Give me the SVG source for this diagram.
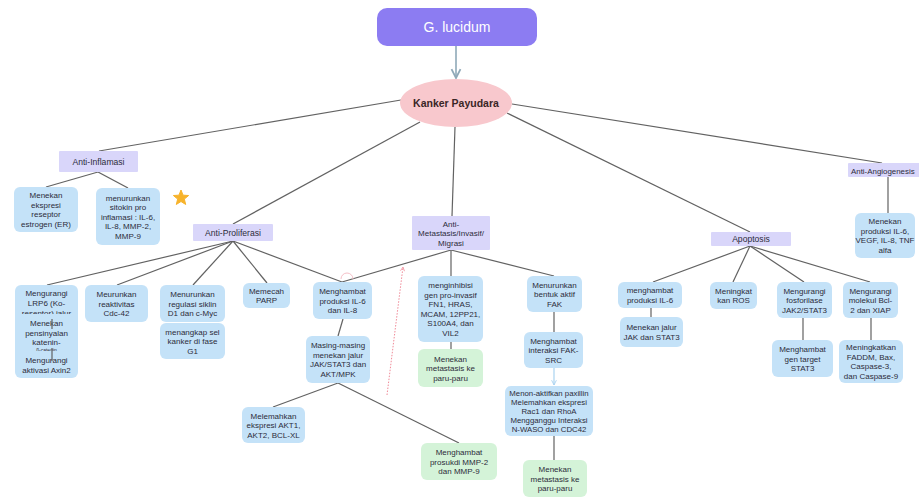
<svg xmlns="http://www.w3.org/2000/svg" width="919" height="498" viewBox="0 0 919 498">
<defs>
<style>
text{font-family:"Liberation Sans",Arial,sans-serif;fill:#2c2c3a;font-size:8px;text-anchor:middle}
text.cat{font-size:8.6px}
.b{fill:#c4e2f8}
.g{fill:#d4f3d8}
.c{fill:#d9d6fa}
.ln{stroke:#626262;stroke-width:1.2;fill:none}
</style>
<marker id="ah" viewBox="0 0 10 10" refX="9" refY="5" markerWidth="7" markerHeight="7" orient="auto"><path d="M1,1 L9,5 L1,9" fill="none" stroke="#8fa9b8" stroke-width="1.6"/></marker>
<marker id="ahb" viewBox="0 0 10 10" refX="9" refY="5" markerWidth="5" markerHeight="5" orient="auto"><path d="M1,1 L9,5 L1,9" fill="none" stroke="#a9d3f0" stroke-width="1.5"/></marker>
<marker id="ahr" viewBox="0 0 10 10" refX="9" refY="5" markerWidth="5" markerHeight="5" orient="auto"><path d="M1,1 L9,5 L1,9" fill="none" stroke="#f08a98" stroke-width="1.5"/></marker>
</defs>
<rect width="919" height="498" fill="#ffffff"/>

<g id="connectors">
<line x1="456" y1="46" x2="456" y2="78" stroke="#8fa9b8" stroke-width="1.6" marker-end="url(#ah)"/>
<line class="ln" x1="401" y1="100" x2="99" y2="151"/>
<line class="ln" x1="420" y1="122" x2="233" y2="224"/>
<line class="ln" x1="455" y1="127" x2="452" y2="216"/>
<line class="ln" x1="507" y1="113" x2="750" y2="232"/>
<line class="ln" x1="512" y1="104" x2="882" y2="163"/>
<line class="ln" x1="98" y1="172" x2="46" y2="187"/>
<line class="ln" x1="98" y1="172" x2="128" y2="188"/>
<line class="ln" x1="233" y1="241" x2="47" y2="285"/>
<line class="ln" x1="233" y1="241" x2="117" y2="285"/>
<line class="ln" x1="233" y1="241" x2="193" y2="285"/>
<line class="ln" x1="233" y1="241" x2="267" y2="283"/>
<line class="ln" x1="233" y1="241" x2="342" y2="282"/>
<line class="ln" x1="451" y1="250" x2="342" y2="282"/>
<line class="ln" x1="343" y1="319" x2="338" y2="336"/>
<line class="ln" x1="338" y1="383" x2="273" y2="407"/>
<line class="ln" x1="338" y1="383" x2="459" y2="443"/>
<line class="ln" x1="451" y1="250" x2="451" y2="276"/>
<line class="ln" x1="451" y1="342" x2="451" y2="349"/>
<line class="ln" x1="451" y1="250" x2="554" y2="276"/>
<line class="ln" x1="554" y1="312" x2="554" y2="332"/>
<line x1="554" y1="368" x2="554" y2="385" stroke="#a9d3f0" stroke-width="1.2" marker-end="url(#ahb)"/>
<line class="ln" x1="554" y1="436" x2="554" y2="460"/>
<line class="ln" x1="750" y1="246" x2="653" y2="282"/>
<line class="ln" x1="750" y1="246" x2="733" y2="282"/>
<line class="ln" x1="750" y1="246" x2="804" y2="282"/>
<line class="ln" x1="750" y1="246" x2="870" y2="282"/>
<line class="ln" x1="651" y1="308" x2="651" y2="317"/>
<line class="ln" x1="803" y1="318" x2="803" y2="340"/>
<line class="ln" x1="871" y1="318" x2="871" y2="340"/>
<line class="ln" x1="888" y1="177" x2="888" y2="213"/>
<line x1="387" y1="395" x2="403" y2="267" stroke="#f08a98" stroke-width="1" stroke-dasharray="1.5,1.5" marker-end="url(#ahr)"/>
<path d="M341,279 A6,6 0 0 1 353,279" fill="none" stroke="#f5c0c8" stroke-width="1"/>
</g>

<g id="g-lucidum"><rect x="377" y="8" width="160" height="38" rx="10" fill="#8c7cf2"/><text x="457" y="32" style="font-size:14px;fill:#ffffff">G. lucidum</text></g>
<g id="kanker"><ellipse cx="456" cy="103" rx="56" ry="24" fill="#f8c8cd"/><text x="456" y="107" style="font-size:10.5px;font-weight:bold;fill:#3a2626">Kanker Payudara</text></g>

<g id="anti-inflamasi"><rect class="c" x="59" y="151" width="79" height="21" rx="1"/><text class="cat" x="98.5" y="164.5">Anti-Inflamasi</text></g>
<g id="er"><rect class="b" x="14" y="187" width="64" height="45" rx="6"/><text x="46" y="198">Menekan</text><text x="46" y="207.5">ekspresi</text><text x="46" y="217">reseptor</text><text x="46" y="226.5">estrogen (ER)</text></g>
<g id="sitokin"><rect class="b" x="96" y="188" width="64" height="57" rx="6"/><text x="128" y="200.5">menurunkan</text><text x="128" y="210">sitokin pro</text><text x="128" y="219.5">inflamasi : IL-6,</text><text x="128" y="229">IL-8, MMP-2,</text><text x="128" y="238.5">MMP-9</text></g>
<g id="star"><polygon points="181,190 183.06,195.17 188.61,195.53 184.33,199.08 185.7,204.47 181,201.5 176.3,204.47 177.67,199.08 173.39,195.53 178.94,195.17" fill="#f7b32b" stroke="#f7b32b" stroke-width="1" stroke-linejoin="round"/></g>

<g id="anti-proliferasi"><rect class="c" x="193" y="224" width="80" height="17" rx="1"/><text class="cat" x="233" y="235.5">Anti-Proliferasi</text></g>
<g id="lrp6">
<rect class="b" x="15" y="285" width="63" height="93" rx="6"/>
<text x="46.5" y="296">Mengurangi</text><text x="46.5" y="306">LRP6 (Ko-</text><text x="46.5" y="316">resentor) jalur</text>
<rect class="b" x="17" y="314" width="59" height="36"/>
<text x="46.5" y="326">Menekan</text><text x="46.5" y="336">pensinyalan</text><text x="46.5" y="345">katenin-</text><text x="46.5" y="352" style="font-size:5px">β-catenin</text>
<rect class="b" x="17" y="351" width="59" height="24"/>
<text x="46.5" y="363">Mengurangi</text><text x="46.5" y="372.5">aktivasi Axin2</text>
<line class="ln" x1="52" y1="319" x2="52" y2="329"/>
<line class="ln" x1="52" y1="348" x2="52" y2="361"/>
</g>
<g id="cdc42"><rect class="b" x="85" y="285" width="63" height="37" rx="6"/><text x="116.5" y="297">Meurunkan</text><text x="116.5" y="306.5">reaktivitas</text><text x="116.5" y="316">Cdc-42</text></g>
<g id="siklin"><rect class="b" x="160" y="285" width="65" height="37" rx="6"/><text x="192.5" y="297">Menurunkan</text><text x="192.5" y="306.5">regulasi siklin</text><text x="192.5" y="316">D1 dan c-Myc</text></g>
<g id="g1"><rect class="b" x="160" y="323" width="65" height="36" rx="6"/><text x="192.5" y="334.5">menangkap sel</text><text x="192.5" y="344">kanker di fase</text><text x="192.5" y="353.5">G1</text></g>
<g id="parp"><rect class="b" x="243" y="283" width="47" height="25" rx="6"/><text x="266.5" y="293.75">Memecah</text><text x="266.5" y="303.25">PARP</text></g>
<g id="il6-il8"><rect class="b" x="313" y="282" width="59" height="37" rx="6"/><text x="342.5" y="294">Menghambat</text><text x="342.5" y="303.5">produksi IL-6</text><text x="342.5" y="313">dan IL-8</text></g>
<g id="jakstat"><rect class="b" x="306" y="336" width="64" height="47" rx="6"/><text x="338" y="348.25">Masing-masing</text><text x="338" y="357.75">menekan jalur</text><text x="338" y="367.25">JAK/STAT3 dan</text><text x="338" y="376.75">AKT/MPK</text></g>
<g id="akt"><rect class="b" x="242" y="407" width="63" height="36" rx="6"/><text x="273.5" y="418.5">Melemahkan</text><text x="273.5" y="428">ekspresi AKT1,</text><text x="273.5" y="437.5">AKT2, BCL-XL</text></g>
<g id="mmp"><rect class="g" x="421" y="443" width="76" height="37" rx="6"/><text x="459" y="455">Menghambat</text><text x="459" y="464.5">prosukdi MMP-2</text><text x="459" y="474">dan MMP-9</text></g>

<g id="anti-metastasis"><rect class="c" x="412" y="216" width="78" height="34" rx="1"/><text x="451" y="226.5">Anti-</text><text x="451" y="236">Metastasis/Invasif/</text><text x="451" y="245.5">Migrasi</text></g>
<g id="pro-invasif"><rect class="b" x="418" y="276" width="65" height="66" rx="6"/><text x="450.5" y="288.25">menginhibisi</text><text x="450.5" y="297.75">gen pro-invasif</text><text x="450.5" y="307.25">FN1, HRAS,</text><text x="450.5" y="316.75">MCAM, 12PP21,</text><text x="450.5" y="326.25">S100A4, dan</text><text x="450.5" y="335.75">VIL2</text></g>
<g id="paru1"><rect class="g" x="418" y="349" width="65" height="38" rx="6"/><text x="450.5" y="361.5">Menekan</text><text x="450.5" y="371">metastasis ke</text><text x="450.5" y="380.5">paru-paru</text></g>
<g id="fak"><rect class="b" x="527" y="276" width="55" height="36" rx="6"/><text x="554.5" y="287.5">Menurunkan</text><text x="554.5" y="297">bentuk aktif</text><text x="554.5" y="306.5">FAK</text></g>
<g id="fak-src"><rect class="b" x="524" y="332" width="59" height="36" rx="6"/><text x="553.5" y="343.5">Menghambat</text><text x="553.5" y="353">interaksi FAK-</text><text x="553.5" y="362.5">SRC</text></g>
<g id="paxillin"><rect class="b" x="505" y="386" width="88" height="50" rx="6"/><text x="549" y="396" style="font-size:7.8px">Menon-aktifkan paxillin</text><text x="549" y="405" style="font-size:7.8px">Melemahkan ekspresi</text><text x="549" y="414" style="font-size:7.8px">Rac1 dan RhoA</text><text x="549" y="423" style="font-size:7.8px">Mengganggu Interaksi</text><text x="549" y="432" style="font-size:7.8px">N-WASO dan CDC42</text></g>
<g id="paru2"><rect class="g" x="523" y="460" width="64" height="37" rx="6"/><text x="555" y="472">Menekan</text><text x="555" y="481.5">metastasis ke</text><text x="555" y="491">paru-paru</text></g>

<g id="apoptosis"><rect class="c" x="711" y="232" width="80" height="14" rx="1"/><text class="cat" x="751" y="242">Apoptosis</text></g>
<g id="ap-il6"><rect class="b" x="618" y="282" width="64" height="26" rx="6"/><text x="650" y="293.25">menghambat</text><text x="650" y="302.75">produksi IL-6</text></g>
<g id="ap-jak"><rect class="b" x="620" y="317" width="63" height="30" rx="6"/><text x="651.5" y="330.25">Menekan jalur</text><text x="651.5" y="339.75">JAK dan STAT3</text></g>
<g id="ros"><rect class="b" x="710" y="282" width="47" height="27" rx="6"/><text x="733.5" y="293.75">Meningkat</text><text x="733.5" y="303.25">kan ROS</text></g>
<g id="fosforilase"><rect class="b" x="777" y="282" width="55" height="36" rx="6"/><text x="804.5" y="293.5">Mengurangi</text><text x="804.5" y="303">fosforilase</text><text x="804.5" y="312.5">JAK2/STAT3</text></g>
<g id="stat3"><rect class="b" x="772" y="340" width="61" height="37" rx="6"/><text x="802.5" y="352">Menghambat</text><text x="802.5" y="361.5">gen target</text><text x="802.5" y="371">STAT3</text></g>
<g id="bcl2"><rect class="b" x="843" y="282" width="55" height="36" rx="6"/><text x="870.5" y="293.5">Mengurangi</text><text x="870.5" y="303">molekul Bcl-</text><text x="870.5" y="312.5">2 dan XIAP</text></g>
<g id="faddm"><rect class="b" x="839" y="340" width="64" height="43" rx="6"/><text x="871" y="350">Meningkatkan</text><text x="871" y="359.5">FADDM, Bax,</text><text x="871" y="369">Caspase-3,</text><text x="871" y="378.5">dan Caspase-9</text></g>

<g id="anti-angiogenesis"><rect class="c" x="848" y="163" width="80" height="14" rx="1"/><text x="851" y="173.5" style="text-anchor:start;font-size:7.9px">Anti-Angiogenesis</text></g>
<g id="vegf"><rect class="b" x="855" y="213" width="60" height="45" rx="6"/><text x="885" y="224.25">Menekan</text><text x="885" y="233.75">produksi IL-6,</text><text x="885" y="243.25">VEGF, IL-8, TNF</text><text x="885" y="252.75">alfa</text></g>
</svg>
